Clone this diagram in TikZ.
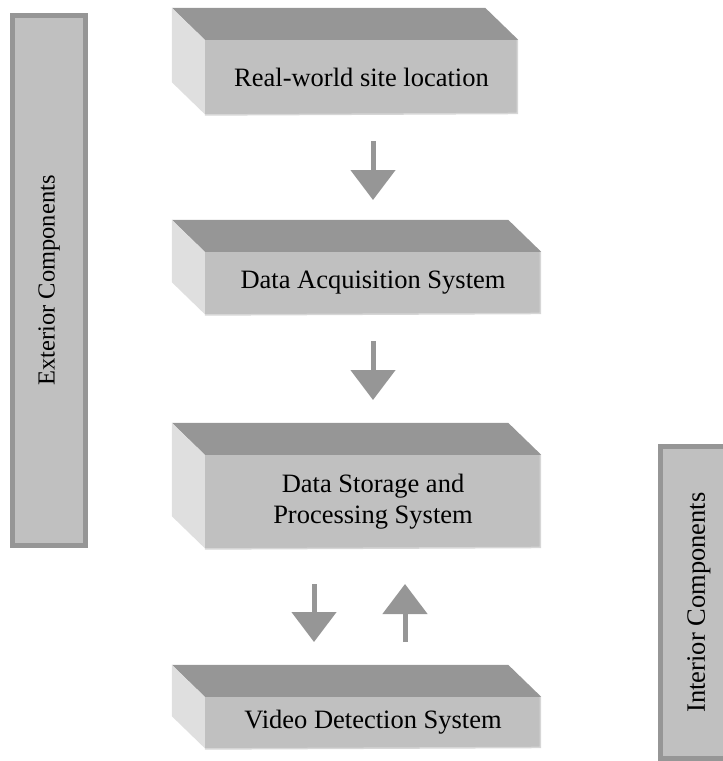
\documentclass[tikz,border=0pt]{standalone}
\usepackage{fontspec}
\setmainfont{Liberation Serif}
\usetikzlibrary{arrows.meta}
\definecolor{frontc}{HTML}{C0C0C0}
\definecolor{topc}{HTML}{969696}
\definecolor{sidec}{HTML}{DFDFDF}
\definecolor{arrowc}{HTML}{969696}
\definecolor{edgec}{HTML}{D6D6D6}
\begin{document}
\begin{tikzpicture}[x=1pt,y=-1pt,
  front/.style={fill=frontc, draw=none, inner sep=0pt, align=center,
    font=\fontsize{26.5}{30.5}\selectfont},
  sidebar/.style={fill=frontc, draw=topc, line width=5pt, inner sep=0pt,
    font=\fontsize{26.5}{30.5}\selectfont},
  blockarrow/.style={draw=arrowc, line width=5pt,
    -{Triangle[width=44pt,length=30pt]}}]
\useasboundingbox (0,0) rectangle (723,761);
\clip (0,0) rectangle (723,761);

% sidebars
\node[sidebar, minimum width=73pt, minimum height=530pt,
  font=\fontsize{24.5}{28}\selectfont] (ext) at (49,280.5)
  {\rotatebox{90}{Exterior Components}};
\node[sidebar, minimum width=77pt, minimum height=312pt] (int) at (699,602.5)
  {\rotatebox{90}{Interior Components}};

% 3D boxes
\node[front, minimum width=313pt, minimum height=74pt] (b1) at (361.5,77) {Real-world site location};
\node[front, minimum width=336pt, minimum height=62pt] (b2) at (373,283) {Data Acquisition System};
\node[front, minimum width=336pt, minimum height=93pt] (b3) at (373,501.5) {Data Storage and\\Processing System};
\node[front, minimum width=336pt, minimum height=51pt] (b4) at (373,722.5) {Video Detection System};

\foreach \b in {b1,b2,b3,b4}{
  \fill[topc] (\b.north west) -- ++(-33,-32) -- ([shift={(-33,-32)}]\b.north east) -- (\b.north east) -- cycle;
  \fill[sidec] (\b.north west) -- ++(-33,-32) -- ([shift={(-33,-32)}]\b.south west) -- (\b.south west) -- cycle;
  \draw[edgec, line width=1.5pt] ([yshift=-0.75pt]\b.south west) -- ([shift={(-0.75,-0.75)}]\b.south east) -- ([xshift=-0.75pt]\b.north east);
}

% block arrows
\coordinate (a1s) at (373,141); \coordinate (a1e) at (373,200);
\coordinate (a2s) at (373,341); \coordinate (a2e) at (373,400);
\coordinate (a3s) at (314,584); \coordinate (a3e) at (314,642);
\coordinate (a4s) at (405,642); \coordinate (a4e) at (405,584);
\draw[blockarrow] (a1s) -- (a1e);
\draw[blockarrow] (a2s) -- (a2e);
\draw[blockarrow] (a3s) -- (a3e);
\draw[blockarrow] (a4s) -- (a4e);
\end{tikzpicture}
\end{document}
